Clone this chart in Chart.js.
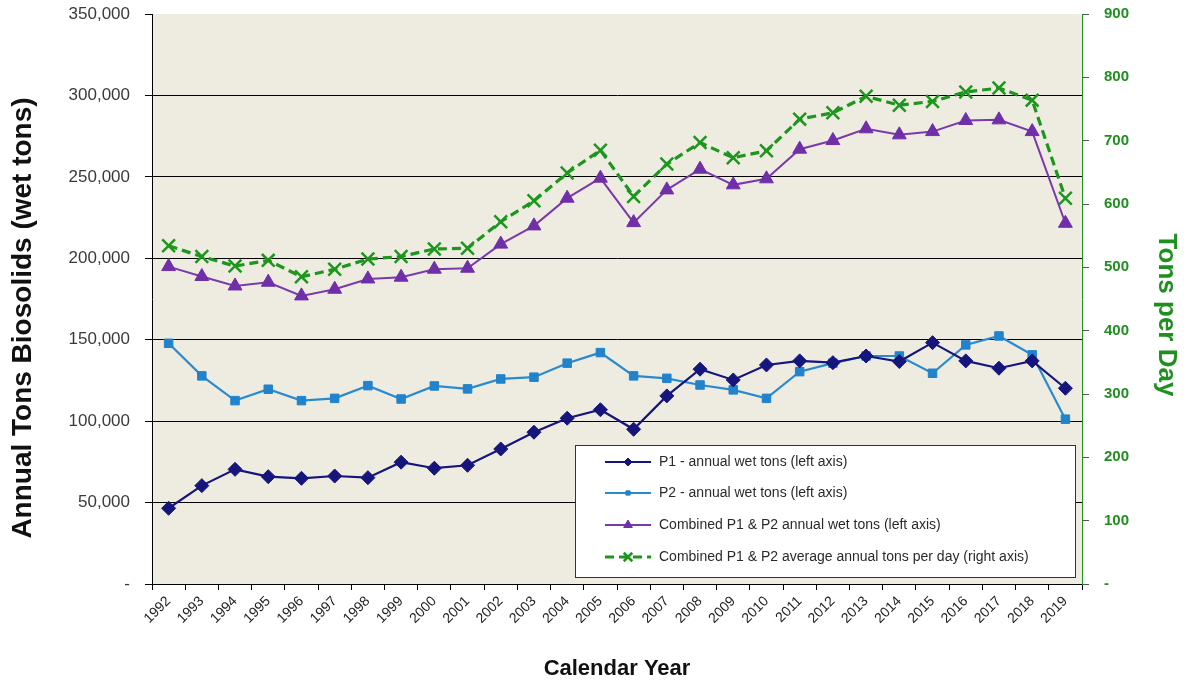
<!DOCTYPE html>
<html>
<head>
<meta charset="utf-8">
<title>Biosolids production 1992–2019</title>
<script src="https://cdn.jsdelivr.net/npm/chart.js@4/dist/chart.umd.min.js"></script>
<style>
  html, body { margin: 0; padding: 0; background: #ffffff; }
  #wrap { width: 1187px; height: 687px; position: relative; }
</style>
</head>
<body>
<div id="wrap"><canvas id="chart" width="1187" height="687"></canvas></div>
<script>
// Calendar years on the x axis
const years = ['1992','1993','1994','1995','1996','1997','1998','1999','2000','2001',
  '2002','2003','2004','2005','2006','2007','2008','2009','2010','2011',
  '2012','2013','2014','2015','2016','2017','2018','2019'];

// Annual wet tons, plant P1 (left axis)
const p1Tons = [46500, 60400, 70400, 65900, 64900, 66300, 65300, 74800, 71100, 72900,
  82900, 93200, 101800, 107000, 95000, 115500, 131900, 125300, 134500, 137000,
  135900, 140000, 136600, 148200, 137000, 132500, 137000, 120200];

// Annual wet tons, plant P2 (left axis)
const p2Tons = [147800, 127800, 112600, 119600, 112600, 114000, 121800, 113600, 121600, 119800,
  125900, 127000, 135600, 142100, 127800, 126300, 122200, 119200, 114000, 130400,
  135600, 140000, 140000, 129400, 146800, 152300, 140700, 101200];

// Combined P1 & P2 annual wet tons (left axis)
const combinedTons = [194900, 188800, 183000, 185300, 176900, 181000, 187300, 188400, 193300, 193900,
  208700, 219900, 236900, 249200, 221900, 242000, 254700, 245100, 248800, 267000,
  272300, 279500, 275800, 277800, 284600, 285000, 277800, 221500];

// Combined average tons per day (right axis)
const tonsPerDay = [534, 517, 502, 511, 485, 497, 513, 517, 529, 530,
  572, 605, 649, 685, 612, 663, 697, 673, 684, 734,
  744, 770, 756, 762, 777, 783, 764, 609];

// Axis titles
const leftTitle = 'Annual Tons Biosolids (wet tons)';
const rightTitle = 'Tons per Day';
const bottomTitle = 'Calendar Year';

const FONT = '"Liberation Sans", Arial, Helvetica, sans-serif';
const GREEN = '#1f8f1f';
const PLOT_BG = '#eeece1';

// Fill the plotting area with the tan background
const plotBackground = {
  id: 'plotBackground',
  beforeDraw(chart) {
    const { ctx, chartArea: a } = chart;
    ctx.save();
    ctx.fillStyle = PLOT_BG;
    ctx.fillRect(a.left, a.top, a.right - a.left, a.bottom - a.top);
    ctx.restore();
  }
};

// Vertical axis titles, placed beside each value axis
const sideTitles = {
  id: 'sideTitles',
  afterDraw(chart) {
    const { ctx, chartArea: a } = chart;
    const midY = (a.top + a.bottom) / 2 + 19;
    ctx.save();
    ctx.font = 'bold 28px ' + FONT;
    ctx.fillStyle = '#111111';
    ctx.textAlign = 'center';
    ctx.textBaseline = 'middle';
    ctx.translate(23, midY);
    ctx.rotate(-Math.PI / 2);
    ctx.fillText(leftTitle, 0, 0);
    ctx.restore();

    ctx.save();
    ctx.font = 'bold 26px ' + FONT;
    ctx.fillStyle = GREEN;
    ctx.textAlign = 'center';
    ctx.textBaseline = 'middle';
    ctx.translate(1166, midY - 3);
    ctx.rotate(Math.PI / 2);
    ctx.fillText(rightTitle, 0, 0);
    ctx.restore();
  }
};

// Boxed legend drawn inside the lower right of the plot
const boxedLegend = {
  id: 'boxedLegend',
  afterDatasetsDraw(chart) {
    const { ctx } = chart;
    const box = { x: 575.5, y: 445.5, w: 500, h: 132 };
    ctx.save();
    ctx.fillStyle = '#ffffff';
    ctx.fillRect(box.x, box.y, box.w, box.h);
    ctx.strokeStyle = '#333333';
    ctx.lineWidth = 1;
    ctx.strokeRect(box.x, box.y, box.w, box.h);
    const rowY = [462, 493, 525, 557];
    chart.data.datasets.forEach((ds, i) => {
      const y = rowY[i];
      ctx.save();
      ctx.strokeStyle = ds.borderColor;
      ctx.lineWidth = ds.borderWidth;
      ctx.setLineDash(ds.borderDash || []);
      ctx.beginPath();
      ctx.moveTo(605, y);
      ctx.lineTo(651, y);
      ctx.stroke();
      ctx.setLineDash([]);
      ctx.fillStyle = ds.pointBackgroundColor;
      ctx.strokeStyle = ds.pointBorderColor;
      ctx.lineWidth = ds.pointBorderWidth || 1;
      Chart.helpers.drawPoint(ctx, {
        pointStyle: ds.pointStyle,
        radius: Math.max(3, ds.pointRadius - 3),
        borderWidth: ds.pointBorderWidth || 1,
        rotation: 0
      }, 628, y);
      ctx.restore();
      ctx.fillStyle = '#2a2a2a';
      ctx.font = '14px ' + FONT;
      ctx.textBaseline = 'middle';
      ctx.textAlign = 'left';
      ctx.fillText(ds.label, 659, y);
    });
    ctx.restore();
  }
};

// Fixed scale thickness; no extra edge padding for overhanging tick labels
function fixSize(prop, size) {
  return scale => {
    scale[prop] = size;
    scale.paddingTop = 0;
    scale.paddingBottom = 0;
    scale.paddingLeft = 0;
    scale.paddingRight = 0;
  };
}

const ctx = document.getElementById('chart').getContext('2d');
new Chart(ctx, {
  type: 'line',
  data: {
    labels: years,
    datasets: [
      {
        label: 'P1 - annual wet tons (left axis)',
        data: p1Tons,
        yAxisID: 'y',
        borderColor: '#15157c',
        backgroundColor: '#15157c',
        pointBackgroundColor: '#15157c',
        pointBorderColor: '#15157c',
        pointStyle: 'rectRot',
        pointRadius: 7,
        pointBorderWidth: 1,
        borderWidth: 2.2,
        tension: 0
      },
      {
        label: 'P2 - annual wet tons (left axis)',
        data: p2Tons,
        yAxisID: 'y',
        borderColor: '#2a8ad0',
        backgroundColor: '#2a8ad0',
        pointBackgroundColor: '#2183cc',
        pointBorderColor: '#2183cc',
        pointStyle: 'rect',
        pointRadius: 6,
        pointBorderWidth: 1,
        borderWidth: 2.2,
        tension: 0
      },
      {
        label: 'Combined P1 & P2 annual wet tons (left axis)',
        data: combinedTons,
        yAxisID: 'y',
        borderColor: '#7a3aae',
        backgroundColor: '#6f2fa8',
        pointBackgroundColor: '#6f2fa8',
        pointBorderColor: '#6f2fa8',
        pointStyle: 'triangle',
        pointRadius: 8,
        pointBorderWidth: 1,
        borderWidth: 2,
        tension: 0
      },
      {
        label: 'Combined P1 & P2 average annual tons per day (right axis)',
        data: tonsPerDay,
        yAxisID: 'y2',
        borderColor: '#1c961c',
        backgroundColor: '#1c961c',
        pointBackgroundColor: '#1c961c',
        pointBorderColor: '#1c961c',
        pointStyle: 'crossRot',
        pointRadius: 9,
        pointBorderWidth: 2.5,
        borderWidth: 3.2,
        borderDash: [9, 5],
        tension: 0
      }
    ]
  },
  options: {
    responsive: false,
    animation: false,
    devicePixelRatio: 1,
    layout: { padding: { top: 14, left: 0, right: 0, bottom: 0 } },
    plugins: {
      legend: { display: false },
      tooltip: { enabled: false },
      title: { display: false }
    },
    scales: {
      x: {
        type: 'category',
        offset: true,
        grid: {
          display: true,
          offset: true,
          drawOnChartArea: false,
          drawTicks: true,
          tickLength: 6,
          color: '#000000',
          lineWidth: 1
        },
        border: { display: true, color: '#000000', width: 1 },
        ticks: {
          maxRotation: 45,
          minRotation: 45,
          autoSkip: false,
          padding: 3,
          color: '#222222',
          font: { family: FONT, size: 14 }
        },
        title: {
          display: true,
          text: bottomTitle,
          color: '#111111',
          font: { family: FONT, size: 22, weight: 'bold' },
          padding: { top: 0, bottom: 5 }
        },
        afterFit: fixSize('height', 103)
      },
      y: {
        position: 'left',
        min: 0,
        max: 350000,
        grid: {
          color: c => (c.tick && c.tick.value === 350000) ? 'rgba(0,0,0,0)' : '#000000',
          tickColor: '#000000',
          lineWidth: 1,
          drawTicks: true,
          tickLength: 7
        },
        border: { display: true, color: '#000000', width: 1 },
        ticks: {
          stepSize: 50000,
          padding: 15,
          color: '#3a3a3a',
          font: { family: FONT, size: 17 },
          callback: v => v === 0 ? '-' : v.toLocaleString('en-US')
        },
        title: { display: false },
        afterFit: fixSize('width', 152)
      },
      y2: {
        position: 'right',
        min: 0,
        max: 900,
        grid: {
          drawOnChartArea: false,
          drawTicks: true,
          tickLength: 7,
          color: '#555555'
        },
        border: { display: true, color: GREEN, width: 1 },
        ticks: {
          stepSize: 100,
          padding: 15,
          color: GREEN,
          font: { family: FONT, size: 15, weight: 'bold' },
          callback: v => v === 0 ? '-' : String(v)
        },
        title: { display: false },
        afterFit: fixSize('width', 105)
      }
    }
  },
  plugins: [plotBackground, boxedLegend, sideTitles]
});
</script>
</body>
</html>
